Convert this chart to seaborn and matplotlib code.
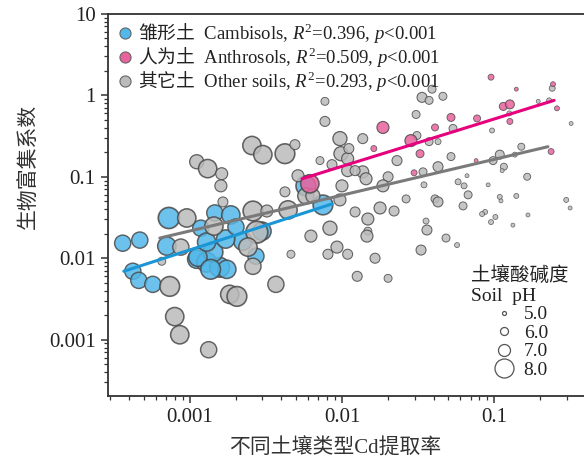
import numpy as np
import pandas as pd
import matplotlib
matplotlib.use('Agg')
import matplotlib.pyplot as plt
import seaborn as sns
from matplotlib.ticker import LogLocator, FuncFormatter, NullFormatter
from matplotlib.lines import Line2D

# 雏形土 Cambisols
camb_x = [3.62e-4, 4.69e-4, 7.28e-4, 7.06e-4, 4.22e-4, 4.62e-4, 5.71e-4, 1.46e-3, 1.18e-3,
          1.11e-3, 1.29e-3, 1.57e-3, 1.42e-3, 1.75e-3, 1.86e-3, 2.23e-3, 2.72e-3, 5.79e-3,
          7.50e-3, 1.13e-3, 1.37e-3, 1.72e-3, 2.98e-3, 2.01e-3, 1.29e-3]
camb_y = [1.53e-2, 1.67e-2, 3.12e-2, 1.41e-2, 6.92e-3, 5.35e-3, 4.78e-3, 3.60e-2, 2.34e-2,
          9.73e-3, 8.93e-3, 7.74e-3, 1.19e-2, 7.31e-3, 3.40e-2, 1.62e-2, 1.06e-2, 7.74e-2,
          4.51e-2, 1.03e-2, 7.31e-3, 1.72e-2, 2.15e-2, 2.42e-2, 1.58e-2]
camb_ph = [7.6, 7.6, 8.3, 7.9, 7.6, 7.6, 7.6, 7.6, 7.6,
           7.9, 8.1, 8.1, 8.1, 7.9, 7.9, 7.9, 7.6, 8.1,
           8.1, 7.9, 8.1, 7.9, 7.9, 7.6, 7.9]

# 人为土 Anthrosols
anth_x = [6.15e-3, 9.55e-2, 0.244, 0.140, 0.115, 0.127, 0.259, 1.86e-2, 5.21e-2,
          7.73e-2, 0.127, 4.09e-2, 2.84e-2, 1.62e-2, 3.26e-2, 0.237, 2.98e-2, 7.62e-2]
anth_y = [8.20e-2, 1.67, 1.37, 1.19, 0.731, 0.774, 0.692, 0.403, 0.535,
          0.520, 0.478, 0.403, 0.278, 0.222, 0.192, 0.204, 0.112, 0.158]
anth_ph = [7.9, 5.5, 5.25, 5.0, 6.0, 6.25, 5.25, 7.0, 6.0,
           5.75, 5.5, 5.75, 7.0, 5.5, 6.0, 5.5, 5.5, 5.0]

# 其它土 Other soils
other_x = [1.11e-3, 1.31e-3, 1.62e-3, 1.60e-3, 1.65e-3, 9.55e-4, 1.44e-3, 8.73e-4, 6.54e-4,
           7.38e-4, 7.96e-4, 8.59e-4, 1.33e-3, 1.83e-3, 2.04e-3, 2.60e-3, 3.68e-3, 4.62e-3,
           2.60e-3, 2.76e-3, 2.41e-3, 4.22e-3, 4.42e-3, 2.56e-3, 3.02e-3, 4.22e-3, 4.91e-3,
           7.17e-3, 8.60e-3, 9.70e-3, 9.85e-3, 1.09e-2, 1.09e-2, 5.14e-3, 7.73e-3, 7.73e-3,
           3.21e-3, 5.79e-3, 6.44e-3, 1.00e-2, 9.70e-3, 8.34e-3, 6.25e-3, 8.09e-3, 9.27e-3,
           1.09e-2, 1.37e-2, 1.11e-2, 2.30e-2, 4.28e-2, 3.41e-2, 1.37e-2, 1.44e-2, 2.01e-2,
           1.22e-2, 1.86e-2, 1.22e-2, 2.64e-2, 1.78e-2, 2.20e-2, 1.48e-2, 1.48e-2, 1.46e-2,
           3.46e-2, 4.09e-2, 4.28e-2, 5.80e-2, 6.35e-2, 6.75e-2, 6.25e-2, 3.57e-2, 3.62e-2,
           4.83e-2, 5.71e-2, 3.31e-2, 1.65e-2, 1.26e-2, 2.01e-2, 3.91e-2, 3.36e-2, 3.74e-2,
           4.61e-2, 3.07e-2, 5.37e-2, 3.11e-2, 3.74e-2, 4.28e-2, 5.21e-2, 0.151, 0.109,
           0.195, 0.230, 0.241, 0.126, 0.321, 9.70e-2, 9.85e-2, 0.137, 0.116, 0.113,
           0.165, 6.64e-2, 9.14e-2, 0.140, 0.109, 0.111, 0.298, 0.316, 0.167,
           8.73e-2, 8.34e-2, 0.102, 9.55e-2, 0.133]
other_y = [0.153, 0.126, 0.109, 7.74e-2, 4.91e-2, 3.12e-2, 2.48e-2, 1.37e-2, 9.18e-3,
           4.51e-3, 1.92e-3, 1.15e-3, 7.53e-4, 3.60e-3, 3.40e-3, 7.96e-3, 4.78e-3, 1.12e-2,
           3.80e-2, 2.09e-2, 1.37e-2, 6.53e-2, 3.92e-2, 0.242, 0.187, 0.192, 0.248,
           0.158, 0.141, 0.294, 0.192, 0.167, 0.119, 0.103, 0.843, 0.478,
           3.80e-2, 5.82e-2, 5.82e-2, 7.74e-2, 5.20e-2, 2.34e-2, 1.87e-2, 1.12e-2, 1.37e-2,
           1.12e-2, 0.294, 0.222, 0.158, 0.133, 0.115, 0.115, 9.45e-2, 0.100,
           0.119, 7.74e-2, 3.70e-2, 5.35e-2, 4.14e-2, 3.80e-2, 3.03e-2, 2.15e-2, 1.87e-2,
           7.96e-2, 5.35e-2, 4.91e-2, 8.67e-2, 7.74e-2, 6.00e-2, 4.39e-2, 2.86e-2, 2.22e-2,
           1.77e-2, 1.45e-2, 1.26e-2, 1.00e-2, 6.00e-3, 5.66e-3, 1.19, 0.944, 0.867,
           0.973, 0.582, 0.392, 0.321, 0.270, 0.270, 0.177, 0.234, 0.187,
           0.843, 0.867, 1.22, 0.600, 0.451, 0.370, 0.158, 0.187, 0.133, 0.119,
           0.100, 0.103, 7.96e-2, 5.82e-2, 5.66e-2, 5.06e-2, 5.20e-2, 4.14e-2, 3.40e-2,
           3.70e-2, 3.49e-2, 3.21e-2, 2.78e-2, 2.55e-2]
other_ph = [7.3, 7.9, 7.0, 7.0, 6.5, 7.9, 7.9, 7.6, 6.0,
            8.1, 7.9, 7.9, 7.6, 7.9, 8.1, 7.6, 7.6, 6.0,
            8.1, 8.4, 7.9, 6.5, 7.9, 7.9, 7.9, 8.1, 6.5,
            6.0, 6.5, 7.3, 7.3, 7.0, 7.0, 7.0, 6.0, 6.5,
            7.0, 7.6, 7.3, 7.0, 7.0, 7.3, 7.0, 6.5, 7.0,
            6.5, 6.5, 6.5, 6.5, 6.5, 6.0, 7.0, 7.0, 6.5,
            6.5, 7.0, 6.5, 6.0, 7.0, 6.5, 7.0, 6.0, 7.0,
            5.5, 6.0, 6.5, 5.5, 5.5, 6.0, 6.0, 5.5, 6.5,
            6.0, 5.25, 6.5, 6.5, 6.5, 6.0, 6.0, 6.5, 6.0,
            6.0, 6.0, 6.0, 6.0, 6.0, 5.5, 6.0, 5.75, 6.25,
            5.0, 5.25, 5.5, 5.25, 5.0, 5.25, 6.0, 5.25, 5.75, 5.0,
            5.75, 5.0, 5.0, 5.25, 5.25, 5.0, 5.25, 5.0, 5.0,
            5.25, 5.25, 5.25, 5.25, 5.0]

# 回归线端点
camb_fit_x, camb_fit_y = [3.68e-4, 8.60e-3], [6.92e-3, 4.64e-2]
other_fit_x, other_fit_y = [6.35e-4, 0.226], [1.77e-2, 0.234]
anth_fit_x, anth_fit_y = [5.46e-3, 0.248], [9.45e-2, 0.867]

legend_ph = [5.0, 6.0, 7.0, 8.0]

labels = {
    'camb': r'$\mathrm{雏形土}$  Cambisols, $\mathit{R}^{\mathregular{2}}$=0.396, $\mathit{p}$<0.001',
    'anth': r'$\mathrm{人为土}$  Anthrosols, $\mathit{R}^{\mathregular{2}}$=0.509, $\mathit{p}$<0.001',
    'other': r'$\mathrm{其它土}$  Other soils, $\mathit{R}^{\mathregular{2}}$=0.293, $\mathit{p}$<0.001',
}
face = {'camb': '#52B8EA', 'anth': '#E8629E', 'other': '#BBBBBB'}
line_c = {'camb': '#1A96D6', 'anth': '#E6007E', 'other': '#7A7A7A'}

df = pd.concat([
    pd.DataFrame({'x': camb_x, 'y': camb_y, 'ph': camb_ph, 'soil': 'camb'}),
    pd.DataFrame({'x': other_x, 'y': other_y, 'ph': other_ph, 'soil': 'other'}),
    pd.DataFrame({'x': anth_x, 'y': anth_y, 'ph': anth_ph, 'soil': 'anth'}),
], ignore_index=True)

sns.set_theme(style='ticks')
plt.rcParams['font.family'] = ['Liberation Serif', 'Noto Sans CJK SC']
plt.rcParams['mathtext.fontset'] = 'custom'
plt.rcParams['mathtext.rm'] = 'Noto Sans CJK SC'
plt.rcParams['mathtext.it'] = 'Liberation Serif:italic'
plt.rcParams['axes.edgecolor'] = '#333333'


def radius(ph):
    # 像素半径
    return np.interp(ph, [5, 6, 7, 8, 9], [2, 4, 6, 9.5, 13])


fig = plt.figure(figsize=(5.84, 4.62), dpi=100)
ax = fig.add_axes([0.185, 0.143, 0.815, 0.827])

for key in ['camb', 'other', 'anth']:
    sub = df[df.soil == key]
    r = radius(sub.ph.values)
    sns.scatterplot(data=sub, x='x', y='y', ax=ax, color=face[key],
                    s=(1.44 * r) ** 2, edgecolor='#4a4a4a',
                    linewidth=0.3 + 0.09 * r, alpha=0.85, legend=False, zorder=2)

for key, fx, fy in [('camb', camb_fit_x, camb_fit_y), ('other', other_fit_x, other_fit_y),
                    ('anth', anth_fit_x, anth_fit_y)]:
    sns.lineplot(x=fx, y=fy, ax=ax, color=line_c[key], lw=2.2, zorder=3)

ax.set_xscale('log')
ax.set_yscale('log')
ax.set_xlim(2.9e-4, 0.39)
ax.set_ylim(2.04e-4, 10)

fmt = FuncFormatter(lambda v, p: f'{v:g}')
for axis in [ax.xaxis, ax.yaxis]:
    axis.set_major_locator(LogLocator(base=10))
    axis.set_minor_locator(LogLocator(base=10, subs=np.arange(2, 10)))
    axis.set_major_formatter(fmt)
    axis.set_minor_formatter(NullFormatter())

ax.spines['right'].set_visible(False)
for s in ['left', 'bottom', 'top']:
    ax.spines[s].set_linewidth(1.3)
ax.tick_params(which='major', direction='out', length=5, width=1.1, labelsize=15,
               colors='#333333', pad=4)
ax.tick_params(which='minor', direction='out', length=3, width=0.9, colors='#333333')
ax.tick_params(labelcolor='#222222')

ax.set_xlabel('不同土壤类型Cd提取率', fontsize=15, color='#333333')
ax.set_ylabel('生物富集系数', fontsize=15, color='#333333')
ax.xaxis.set_label_coords(0.477, -0.11)
ax.yaxis.set_label_coords(-0.145, 0.6)

# 土壤类型图例
handles = [Line2D([], [], ls='', marker='o', markersize=8, markerfacecolor=face[k],
                  markeredgecolor='#666666', markeredgewidth=0.8)
           for k in ['camb', 'anth', 'other']]
leg1 = ax.legend(handles, [labels[k] for k in ['camb', 'anth', 'other']],
                 loc='upper left', bbox_to_anchor=(0.0, 1.0), frameon=False,
                 fontsize=13.5, handlelength=1.0, handletextpad=0.2,
                 labelspacing=0.0, borderaxespad=0.0, labelcolor='#222222')
ax.add_artist(leg1)

# pH 大小图例
ph_handles = [Line2D([], [], ls='', marker='o', markersize=2 * radius(p) * 0.72,
                     markerfacecolor='white', markeredgecolor='#555555', markeredgewidth=0.9)
              for p in legend_ph]
leg2 = ax.legend(ph_handles, [f'{p:.1f}' for p in legend_ph],
                 title='土壤酸碱度\nSoil  pH', title_fontsize=14, fontsize=14,
                 loc='upper center', bbox_to_anchor=(0.866, 0.385), frameon=False,
                 handlelength=1.2, handletextpad=0.4, labelspacing=0.05,
                 labelcolor='#222222')
leg2.get_title().set_color('#222222')

fig.savefig('out.png', dpi=100)
